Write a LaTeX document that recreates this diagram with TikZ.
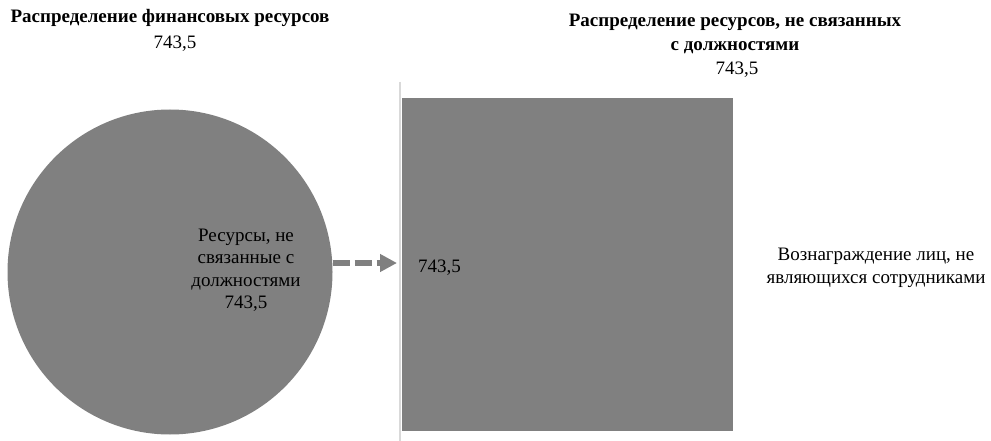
\documentclass[tikz,border=0pt]{standalone}
\usepackage{fontspec}
\setmainfont{Liberation Serif}
\usetikzlibrary{arrows.meta}
\definecolor{fillgray}{HTML}{808080}
\definecolor{linegray}{HTML}{D9D9D9}
\tikzset{
  lbl/.style={font=\fontsize{19}{22.5}\selectfont, align=center, inner sep=0pt, text=black},
  ttl/.style={font=\fontsize{19}{24}\selectfont\bfseries, align=center, inner sep=0pt, text=black},
}
\begin{document}
\begin{tikzpicture}[x=1pt,y=-1pt]
\useasboundingbox (0,0) rectangle (991,441);
% titles
\node[ttl] (t1) at (170,18) {Распределение финансовых ресурсов};
\node[lbl] (t1v) at (175,44) {743,5};
\node[ttl] (t2) at (735,34) {Распределение ресурсов, не связанных\\с должностями};
\node[lbl] (t2v) at (737,70) {743,5};
% circle
\node[circle, fill=fillgray, minimum size=325pt, inner sep=0pt] (c) at (170,272) {};
\node[lbl] (ct) at (246,270) {Ресурсы, не\\связанные с\\должностями\\743,5};
% separator line
\coordinate (ltop) at (400,82);
\coordinate (lbot) at (400,441);
\draw[linegray, line width=2pt] (ltop) -- (lbot);
% square
\node[rectangle, fill=fillgray, minimum width=331pt, minimum height=333pt, inner sep=0pt, anchor=north west] (sq) at (402,98) {};
\node[lbl, anchor=west] (sv) at (418,268) {743,5};
% arrow
\coordinate (aend) at (397,263);
\draw[fillgray, line width=5.5pt, dash pattern=on 17pt off 5pt, -{Triangle[length=17pt,width=17pt]}] (c.east |- aend) -- (aend);
% right label
\node[lbl] (rl) at (876,268) {Вознаграждение лиц, не\\являющихся сотрудниками};
\end{tikzpicture}
\end{document}
